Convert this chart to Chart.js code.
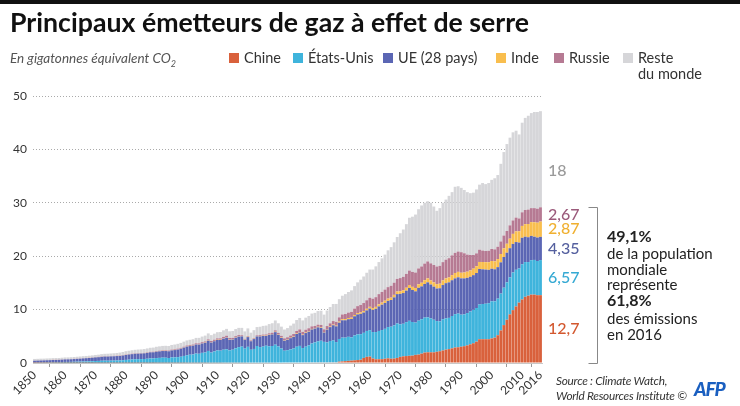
<!DOCTYPE html>
<html><head><meta charset="utf-8">
<script src="https://cdn.jsdelivr.net/npm/chart.js@4.4.1/dist/chart.umd.min.js"></script>
<style>
body{margin:0;background:#fff;}
#wrap{position:relative;width:740px;height:406px;overflow:hidden;font-family:Lato,"Open Sans",sans-serif;color:#222;}
#c{position:absolute;left:0;top:0;}
.t{position:absolute;white-space:nowrap;}
#topbar{position:absolute;left:0;top:0;width:740px;height:4px;background:#111;}
#title{left:10px;top:7px;font-size:26.7px;line-height:30px;font-weight:700;color:#111;letter-spacing:0px;}
#sub{left:10px;top:49px;font-size:13.5px;line-height:18px;font-style:italic;color:#555;}
#sub sub{font-size:9px;}
.lg{position:absolute;font-size:14.5px;line-height:16px;color:#333;white-space:nowrap;}
.sq{position:absolute;width:10px;height:10px;}
.ann{left:607px;font-size:15px;line-height:16px;color:#222;}
.ann b{font-size:16px;}
#src{left:556px;top:373px;font-size:11.8px;line-height:15px;font-style:italic;color:#333;letter-spacing:-0.25px;}
#afp{left:694px;top:379px;font-size:19px;line-height:20px;font-weight:900;font-style:italic;color:#1a5fc0;letter-spacing:-1px;}
</style></head>
<body><div id="wrap">
<canvas id="c" width="740" height="406"></canvas>
<div id="topbar"></div>
<div class="t" id="title">Principaux émetteurs de gaz à effet de serre</div>
<div class="t" id="sub">En gigatonnes équivalent CO<sub>2</sub></div>
<div id="legend"></div>
<div class="t ann" style="top:228px"><b>49,1%</b></div>
<div class="t ann" style="top:245px">de la population</div>
<div class="t ann" style="top:261px">mondiale</div>
<div class="t ann" style="top:276px">représente</div>
<div class="t ann" style="top:292px"><b>61,8%</b></div>
<div class="t ann" style="top:310px">des émissions</div>
<div class="t ann" style="top:326px">en 2016</div>
<div class="t" id="src">Source : Climate Watch,<br>World Resources Institute ©</div>
<div class="t" id="afp">AFP</div>
</div>
<script>
const years = Array.from({length: 167}, (_, i) => 1850 + i);
const tickYears = [1850,1860,1870,1880,1890,1900,1910,1920,1930,1940,1950,1960,1970,1980,1990,2000,2010,2016];
const seriesNames = ["Chine","États-Unis","UE (28 pays)","Inde","Russie","Reste du monde"];

const chine = [
.02,.02,.02,.02,.02,.02,.02,.02,.02,.02,.02,.02,.02,.02,.02,.02,.02,.02,.02,.02,
.03,.03,.03,.03,.03,.03,.03,.03,.03,.03,.03,.03,.03,.03,.03,.03,.03,.03,.03,.03,
.04,.04,.04,.04,.04,.04,.04,.04,.04,.04,
.05,.05,.05,.05,.05,.05,.05,.06,.06,.06,.06,.06,.07,.07,.07,.07,.07,.07,.07,.07,
.08,.08,.08,.08,.08,.08,.08,.08,.08,.08,.09,.09,.10,.10,.10,.10,.10,.10,.10,.11,
.11,.11,.11,.11,.12,.11,.11,.12,.12,.12,
.25,.30,.35,.40,.45,.50,.55,.62,.95,1.15,1.20,.85,.70,.70,.72,.80,.88,.80,.84,.95,
1.15,1.25,1.30,1.35,1.38,1.52,1.58,1.75,1.95,2.00,2.00,2.00,2.10,2.20,2.35,2.50,2.60,2.75,2.90,2.95,
3.05,3.15,3.30,3.50,3.70,4.00,4.45,4.45,4.45,4.45,4.60,4.75,5.20,6.10,7.10,8.10,9.10,9.90,10.60,11.30,
11.90,12.40,12.60,12.80,12.80,12.70,12.70];

const etatsUnis = [
.06,.07,.08,.09,.10,.11,.12,.13,.14,.16,.18,.18,.19,.21,.23,.24,.26,.28,.30,.32,
.34,.36,.39,.41,.40,.41,.42,.44,.45,.49,.55,.60,.64,.68,.69,.70,.72,.77,.83,.82,
.88,.92,.96,.95,.90,1.00,1.02,1.06,1.14,1.28,
1.40,1.50,1.55,1.72,1.68,1.85,1.92,2.20,1.90,2.10,2.30,2.25,2.42,2.50,2.30,2.42,2.68,2.90,3.00,2.62,
2.95,2.40,2.55,3.10,2.90,3.00,3.15,3.05,3.10,3.35,3.00,2.62,2.20,2.30,2.45,2.60,2.95,3.10,2.70,2.95,
3.20,3.55,3.75,3.95,4.05,3.85,3.75,4.00,4.10,3.80,
4.25,4.45,4.40,4.50,4.35,4.65,4.80,4.78,4.70,4.85,4.95,4.95,5.10,5.30,5.45,5.60,5.85,6.00,6.20,6.45,
6.10,6.10,6.35,6.55,6.30,6.05,6.35,6.45,6.55,6.55,6.35,6.10,5.75,5.60,5.85,5.85,5.85,6.05,6.25,6.30,
6.00,5.95,6.05,6.15,6.25,6.30,6.50,6.60,6.65,6.75,6.95,6.80,6.85,6.90,7.00,7.00,6.95,7.05,6.85,6.40,
6.60,6.50,6.30,6.45,6.50,6.40,6.57];

const ue = [
.35,.36,.37,.38,.39,.40,.42,.42,.43,.45,.47,.48,.49,.51,.53,.55,.58,.60,.62,.65,
.68,.70,.74,.77,.78,.80,.81,.83,.85,.88,.93,.96,.99,1.02,1.03,1.04,1.06,1.10,1.14,1.16,
1.20,1.22,1.24,1.25,1.26,1.32,1.36,1.42,1.48,1.55,
1.62,1.62,1.65,1.70,1.72,1.76,1.82,1.90,1.88,1.92,1.96,2.00,2.08,2.18,1.98,1.90,1.98,1.98,1.92,1.65,
1.82,1.60,1.85,1.80,2.00,2.00,1.85,2.15,2.18,2.35,2.18,1.98,1.88,1.95,2.10,2.20,2.38,2.50,2.42,2.55,
2.55,2.62,2.60,2.62,2.40,1.75,2.40,2.60,2.85,2.95,
3.05,3.25,3.25,3.30,3.45,3.60,3.75,3.80,3.80,3.85,4.05,4.15,4.35,4.60,4.75,4.85,4.90,5.00,5.25,5.50,
5.70,5.75,5.90,6.15,6.00,5.85,6.15,6.15,6.30,6.55,6.35,6.20,6.10,6.20,6.40,6.60,6.65,6.70,6.70,6.80,
6.80,6.75,6.60,6.50,6.50,6.55,6.65,6.50,6.40,6.25,6.10,6.00,5.90,5.85,5.75,5.55,5.45,5.35,5.20,4.85,
4.95,4.75,4.65,4.55,4.35,4.40,4.35];

const inde = [
.01,.01,.01,.01,.01,.01,.01,.01,.01,.01,.01,.01,.01,.01,.01,.01,.01,.01,.01,.01,
.02,.02,.02,.02,.02,.02,.02,.02,.02,.02,.02,.02,.02,.02,.02,.02,.02,.02,.02,.02,
.03,.03,.03,.03,.03,.03,.03,.03,.03,.03,
.04,.04,.04,.04,.04,.04,.05,.05,.05,.05,.05,.05,.05,.06,.06,.06,.06,.06,.06,.06,
.06,.06,.06,.06,.07,.07,.07,.07,.07,.07,.07,.07,.08,.08,.08,.08,.09,.09,.09,.09,
.10,.10,.10,.10,.10,.10,.11,.11,.12,.12,
.20,.21,.22,.22,.23,.24,.25,.27,.28,.30,.32,.34,.36,.38,.39,.42,.43,.44,.47,.49,
.50,.52,.54,.56,.58,.62,.65,.68,.70,.74,.76,.80,.82,.85,.87,.90,.93,.96,1.00,1.02,
1.05,1.10,1.15,1.18,1.22,1.28,1.32,1.36,1.38,1.42,1.45,1.48,1.52,1.56,1.62,1.68,1.78,1.88,2.00,2.12,
2.22,2.35,2.48,2.58,2.70,2.78,2.87];

const russie = [
.02,.02,.02,.02,.02,.02,.03,.03,.03,.03,.03,.03,.03,.03,.03,.04,.04,.04,.04,.04,
.04,.04,.05,.05,.05,.05,.05,.05,.05,.06,.06,.06,.06,.06,.07,.07,.07,.08,.08,.09,
.09,.10,.10,.11,.11,.12,.13,.14,.15,.16,
.17,.17,.18,.18,.19,.20,.21,.22,.23,.24,.25,.26,.28,.30,.28,.26,.24,.22,.15,.12,
.12,.12,.13,.14,.16,.18,.20,.22,.24,.27,.30,.33,.36,.39,.42,.45,.48,.50,.52,.54,
.55,.48,.38,.40,.46,.50,.55,.60,.66,.72,
.80,.88,.95,1.02,1.10,1.20,1.30,1.40,1.50,1.60,1.70,1.75,1.82,1.92,2.00,2.08,2.15,2.22,2.28,2.36,
2.45,2.52,2.60,2.70,2.80,2.90,2.98,3.05,3.12,3.18,3.20,3.25,3.30,3.35,3.42,3.50,3.60,3.70,3.78,3.80,
3.85,3.60,3.20,2.90,2.55,2.40,2.30,2.15,2.10,2.15,2.25,2.25,2.30,2.35,2.40,2.40,2.50,2.52,2.58,2.40,
2.55,2.65,2.70,2.62,2.65,2.62,2.67];

const reste = [
.30,.30,.31,.30,.31,.31,.31,.32,.31,.32,.33,.33,.34,.34,.35,.36,.37,.37,.38,.39,
.40,.41,.43,.44,.46,.47,.49,.51,.55,.58,.62,.63,.65,.66,.68,.69,.71,.73,.75,.77,
.80,.81,.83,.84,.85,.87,.88,.90,.92,.94,
.95,.97,.99,1.01,1.03,1.05,1.08,1.11,1.10,1.12,1.15,1.18,1.22,1.28,1.25,1.28,1.32,1.35,1.38,1.40,
1.45,1.42,1.48,1.55,1.58,1.62,1.66,1.72,1.78,1.85,1.80,1.72,1.65,1.72,1.85,1.95,2.05,2.15,2.15,2.25,
2.30,2.40,2.45,2.55,2.65,2.75,2.90,3.05,3.20,3.35,
3.40,3.51,3.73,3.86,4.02,4.21,4.45,4.73,4.97,5.15,5.28,5.46,5.77,6.00,6.29,6.55,6.89,7.24,7.56,7.85,
8.40,8.86,9.31,9.89,10.34,10.86,11.09,11.42,11.38,11.28,11.34,10.95,10.43,10.80,11.11,11.25,11.67,11.84,12.37,12.23,
12.05,11.85,11.70,11.57,11.68,11.97,12.18,12.64,12.52,12.68,12.95,13.32,13.43,14.54,15.63,16.27,16.42,16.50,16.27,15.73,
16.78,17.25,17.57,17.80,18.00,18.10,18.00];

const endLabels = ["12,7","6,57","4,35","2,87","2,67","18"];

const colors = ["#d9613c","#3fb4dc","#5b66b4","#f9be4e","#b67a93","#d6d6d9"];
const labelColors = ["#d3582f","#35a9d3","#55609f","#f0b030","#9b5a7b","#9a9a9a"];
const legendX = [229,293,383,496,554,623];

const lg = document.getElementById('legend');
seriesNames.forEach((n, i) => {
  const sq = document.createElement('div');
  sq.className = 'sq';
  sq.style.left = legendX[i] + 'px'; sq.style.top = '53px'; sq.style.background = colors[i];
  lg.appendChild(sq);
  const t = document.createElement('div');
  t.className = 'lg';
  t.style.left = (legendX[i] + 15) + 'px'; t.style.top = '50px';
  t.innerHTML = i === 5 ? 'Reste<br>du monde' : n;
  lg.appendChild(t);
});

const allSeries = [chine, etatsUnis, ue, inde, russie, reste];

const endLabelPlugin = {
  id: 'endLabels',
  afterDatasetsDraw(chart) {
    const ctx = chart.ctx, y = chart.scales.y, area = chart.chartArea;
    const last = years.length - 1;
    let cum = 0;
    ctx.save();
    ctx.font = '500 16px Lato, sans-serif';
    ctx.textBaseline = 'middle';
    ctx.textAlign = 'left';
    allSeries.forEach((s, i) => {
      const v = s[last];
      let mid = cum + v / 2;
      if (i === 5) mid = cum + v * 0.38;
      ctx.fillStyle = labelColors[i];
      ctx.fillText(endLabels[i], area.right + 6, y.getPixelForValue(mid));
      cum += v;
    });
    const top5 = chine[last] + etatsUnis[last] + ue[last] + inde[last] + russie[last];
    const yt = Math.round(y.getPixelForValue(top5)) + 0.5;
    const yb = Math.round(y.getPixelForValue(0)) + 0.5;
    const bx = Math.round(area.right + 55) + 0.5;
    ctx.strokeStyle = '#888'; ctx.lineWidth = 1;
    ctx.beginPath();
    ctx.moveTo(bx - 9, yt); ctx.lineTo(bx, yt); ctx.lineTo(bx, yb); ctx.lineTo(bx - 9, yb);
    ctx.stroke();
    ctx.restore();
  }
};

Chart.defaults.font.family = 'Lato, sans-serif';
new Chart(document.getElementById('c'), {
  type: 'bar',
  data: {
    labels: years,
    datasets: allSeries.map((s, i) => ({
      label: seriesNames[i], data: s, backgroundColor: colors[i],
      borderWidth: 0, barPercentage: 0.94, categoryPercentage: 1
    }))
  },
  options: {
    responsive: false, animation: false,
    layout: { padding: { left: 0, top: 96, right: 198, bottom: 0 } },
    plugins: { legend: { display: false }, tooltip: { enabled: false } },
    scales: {
      x: {
        stacked: true,
        afterFit: s => { s.height = 43; },
        grid: { display: true, drawOnChartArea: false, drawTicks: true, tickLength: 4, color: '#999' },
        border: { display: true, color: '#c8c8c8' },
        ticks: {
          autoSkip: false, minRotation: 45, maxRotation: 45, padding: 1,
          color: '#333', font: { size: 12 },
          callback: (v, idx) => tickYears.includes(years[idx]) ? String(years[idx]) : null
        }
      },
      y: {
        stacked: true, min: 0, max: 50,
        afterFit: s => { s.width = 33; },
        grid: { color: '#aaa', drawTicks: false },
        border: { display: false, dash: [1, 2] },
        ticks: { stepSize: 10, padding: 6, color: '#333', font: { size: 12 } }
      }
    }
  },
  plugins: [endLabelPlugin]
});
</script>
</body></html>
